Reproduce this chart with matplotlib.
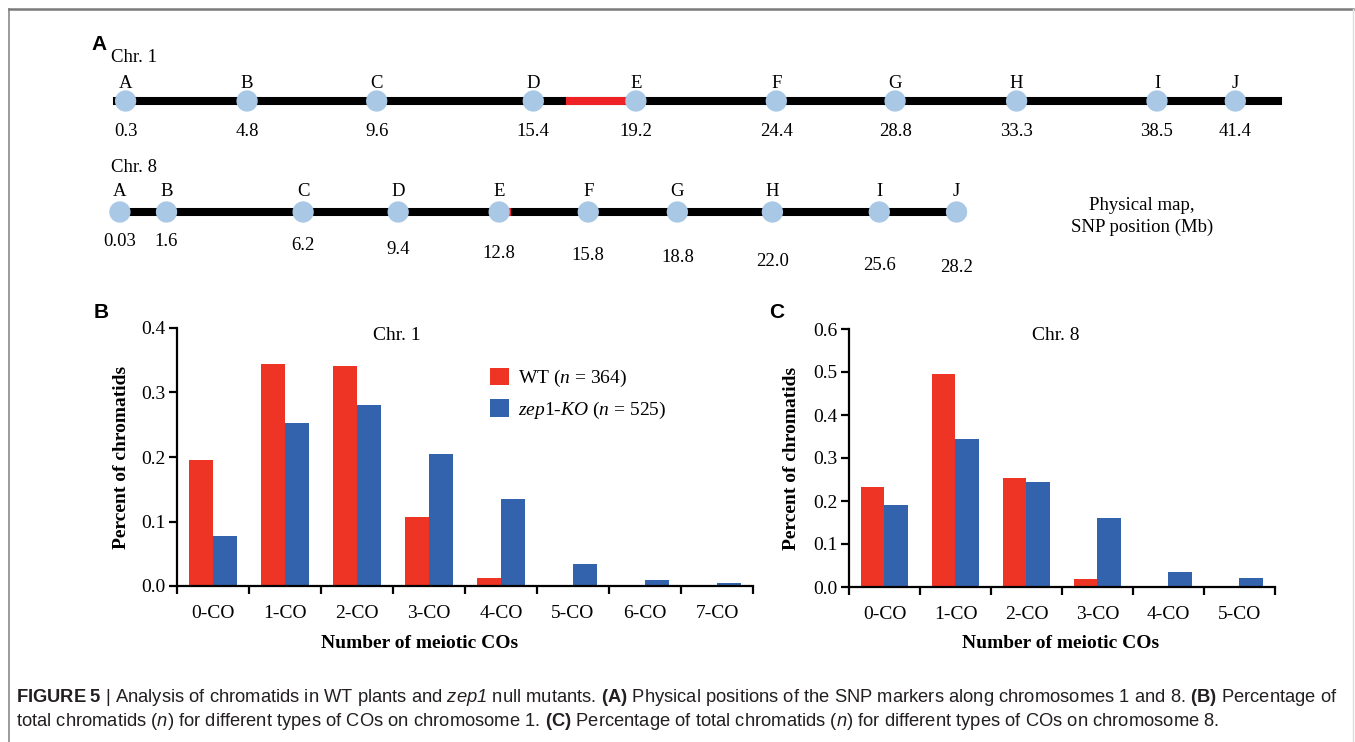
import numpy as np
import matplotlib.pyplot as plt
from matplotlib import font_manager

# caption font: a narrow sans if we have one
_names = {f.name for f in font_manager.fontManager.ttflist}
CAP_FONT = 'Liberation Sans Narrow' if 'Liberation Sans Narrow' in _names else 'Liberation Sans'

plt.rcParams['font.family'] = 'Liberation Serif'
plt.rcParams['mathtext.fontset'] = 'custom'
plt.rcParams['mathtext.rm'] = 'Liberation Serif'
plt.rcParams['mathtext.it'] = 'Liberation Serif:italic'
plt.rcParams['mathtext.bf'] = CAP_FONT + ':bold'
plt.rcParams['mathtext.sf'] = CAP_FONT + ':italic'

# ---- data ----
markers = list("ABCDEFGHIJ")
chr1_pos = [0.3, 4.8, 9.6, 15.4, 19.2, 24.4, 28.8, 33.3, 38.5, 41.4]
chr1_txt = ['0.3', '4.8', '9.6', '15.4', '19.2', '24.4', '28.8', '33.3', '38.5', '41.4']
chr1_len = 43.0
chr1_red = [16.6, 19.2]

chr8_pos = [0.03, 1.6, 6.2, 9.4, 12.8, 15.8, 18.8, 22.0, 25.6, 28.2]
chr8_txt = ['0.03', '1.6', '6.2', '9.4', '12.8', '15.8', '18.8', '22.0', '25.6', '28.2']
chr8_len = 28.4
chr8_red = [13.0, 13.2]

co_chr1 = ['0-CO', '1-CO', '2-CO', '3-CO', '4-CO', '5-CO', '6-CO', '7-CO']
wt_chr1 = [0.195, 0.344, 0.341, 0.107, 0.013, 0.0, 0.0, 0.0]
ko_chr1 = [0.078, 0.253, 0.280, 0.204, 0.135, 0.034, 0.009, 0.005]

co_chr8 = ['0-CO', '1-CO', '2-CO', '3-CO', '4-CO', '5-CO']
wt_chr8 = [0.233, 0.495, 0.253, 0.019, 0.0, 0.0]
ko_chr8 = [0.190, 0.345, 0.245, 0.161, 0.036, 0.021]

RED = '#ee3424'
BLUE = '#3463ae'
DOT = '#a8c8e6'

W, H = 1355, 742
fig = plt.figure(figsize=(W / 100, H / 100), dpi=100)

# overlay in pixel coords for frame, letters and caption
ov = fig.add_axes([0, 0, 1, 1])
ov.set_xlim(0, W)
ov.set_ylim(H, 0)
ov.axis('off')
ov.plot([9, 9], [9, H], color='#8a8a8a', lw=1.2)
ov.plot([9, 1353], [9, 9], color='#7a7a7a', lw=1.8)
ov.plot([1353, 1353], [9, H], color='#dddddd', lw=1.0)


def chrom(origin_px, px_per_mb, y, pos, txt, length, red, txt_y, y_letter, title, title_y):
    ax = fig.add_axes([0, 0, 1, 1])
    ax.set_xlim(-origin_px / px_per_mb, (W - origin_px) / px_per_mb)
    ax.set_ylim(H, 0)
    ax.axis('off')
    ax.plot([0, length], [y, y], color='black', lw=5.8, solid_capstyle='projecting', zorder=1)
    ax.plot(red, [y, y], color='#ee2224', lw=5.8, solid_capstyle='butt', zorder=2)
    ax.scatter(pos, [y] * len(pos), s=235, color=DOT, edgecolors='none', zorder=3)
    for p, m, t, ty in zip(pos, markers, txt, txt_y):
        ax.text(p, y_letter, m, ha='center', va='center', fontsize=13.5)
        ax.text(p, ty, t, ha='center', va='center', fontsize=13.5)
    ax.text(-(origin_px - 111) / px_per_mb, title_y, title, ha='left', va='center', fontsize=13.5)
    return ax


chrom(117.5, 27.0, 101, chr1_pos, chr1_txt, chr1_len, chr1_red,
      [132] * 10, 83, 'Chr. 1', 58)
chrom(119.0, 29.7, 212, chr8_pos, chr8_txt, chr8_len, chr8_red,
      [241, 241, 246, 249, 253, 256, 258, 261, 265, 267], 191, 'Chr. 8', 168)
ov.text(1142, 205, 'Physical map,', ha='center', va='center', fontsize=13.5)
ov.text(1142, 227, 'SNP position (Mb)', ha='center', va='center', fontsize=13.5)


def bars(left, right, top, bottom, cats, wt, ko, ymax, ylab_x):
    ax = fig.add_axes([left / W, 1 - bottom / H, (right - left) / W, (bottom - top) / H])
    ax.set_facecolor('none')
    x = np.arange(len(cats))
    w = 1 / 3
    ax.bar(x - w / 2, wt, w, color=RED, edgecolor='none', label='WT ($\\mathit{n}$ = 364)')
    ax.bar(x + w / 2, ko, w, color=BLUE, edgecolor='none',
           label='$\\mathit{zep1}$-$\\mathit{KO}$ ($\\mathit{n}$ = 525)')
    ax.set_xlim(-0.5, len(cats) - 0.5)
    ax.set_ylim(0, ymax)
    for s in ['top', 'right']:
        ax.spines[s].set_visible(False)
    for s in ['left', 'bottom']:
        ax.spines[s].set_linewidth(1.6)
    ax.set_xticks(np.arange(len(cats) + 1) - 0.5, [''] * (len(cats) + 1))
    ax.set_xticks(x, cats, minor=True)
    ax.tick_params(axis='x', which='major', direction='out', length=5.5, width=1.6)
    ax.tick_params(axis='x', which='minor', length=0, pad=14, labelsize=14)
    yt = np.arange(0, ymax + 0.001, 0.1)
    ax.set_yticks(yt, ['%.1f' % v for v in yt])
    ax.tick_params(axis='y', direction='out', length=5.5, width=1.6, pad=3, labelsize=14)
    ax.text((ylab_x - left) / (right - left), 0.5, 'Percent of chromatids', transform=ax.transAxes,
            rotation=90, ha='center', va='center', fontsize=14, fontweight='bold')
    return ax


axB = bars(177, 753, 328, 586, co_chr1, wt_chr1, ko_chr1, 0.4, 121)
axB.legend(loc='upper left', bbox_to_anchor=((490 - 177) / 576, (586 - 368) / 258),
           frameon=False, fontsize=14, handlelength=1.0, handleheight=1.0,
           handletextpad=0.45, labelspacing=0.5, borderpad=0, borderaxespad=0)
axC = bars(849, 1275, 329, 587, co_chr8, wt_chr8, ko_chr8, 0.6, 792)

ov.text(397, 335, 'Chr. 1', ha='center', va='center', fontsize=14)
ov.text(1056, 335, 'Chr. 8', ha='center', va='center', fontsize=14)
ov.text(420, 643, 'Number of meiotic COs', ha='center', va='center', fontsize=14, fontweight='bold')
ov.text(1061, 643, 'Number of meiotic COs', ha='center', va='center', fontsize=14, fontweight='bold')

for lx, ly, lt in [(99, 45, 'A'), (101, 313, 'B'), (777, 313, 'C')]:
    ov.text(lx, ly, lt, ha='center', va='center', fontsize=15, fontweight='bold',
            family='Liberation Sans')

cap1 = (r'$\mathbf{FIGURE\ 5}$ | Analysis of chromatids in WT plants and $\mathsf{zep1}$ null mutants. '
        r'$\mathbf{(A)}$ Physical positions of the SNP markers along chromosomes 1 and 8. '
        r'$\mathbf{(B)}$ Percentage of')
cap2 = (r'total chromatids ($\mathsf{n}$) for different types of COs on chromosome 1. '
        r'$\mathbf{(C)}$ Percentage of total chromatids ($\mathsf{n}$) for different types of COs on chromosome 8.')
ov.text(16, 697, cap1, ha='left', va='center', fontsize=13.25, family=CAP_FONT, color='#231f20')
ov.text(16, 721, cap2, ha='left', va='center', fontsize=13.25, family=CAP_FONT, color='#231f20')

fig.savefig('out.png', dpi=100)
